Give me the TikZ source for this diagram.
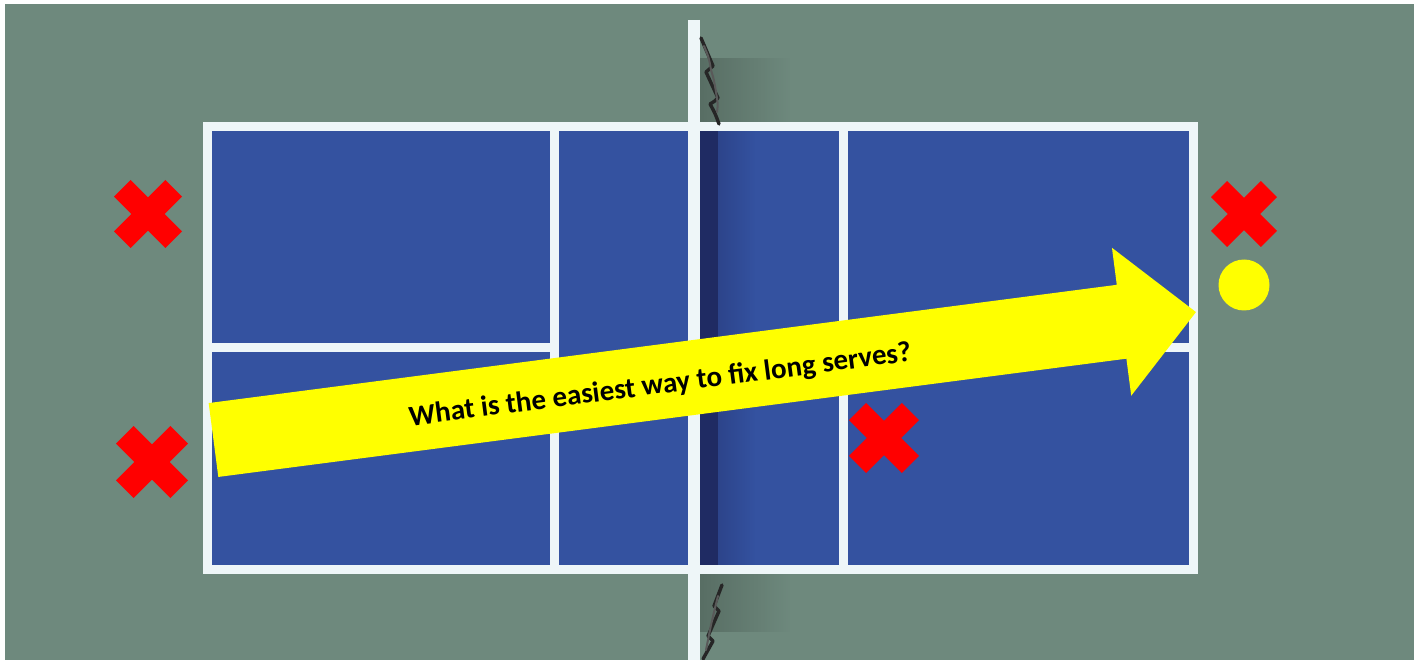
\documentclass[tikz,border=0pt]{standalone}
\usepackage{fontspec}
\setmainfont{Carlito}
\usetikzlibrary{fadings}
\definecolor{turf}{HTML}{6E897D}
\definecolor{courtblue}{HTML}{3452A0}
\definecolor{netdark}{HTML}{1F2B63}
\definecolor{linewhite}{HTML}{EEF6F8}
\definecolor{pureyellow}{RGB}{255,255,0}
\newcommand\redcross[4]{%
  \node[armbox,minimum width={#4*1.4142-#4*0.347},minimum height={#4*0.347},rotate=45] (#1a) at (#2,#3) {};
  \node[armbox,minimum width={#4*1.4142-#4*0.347},minimum height={#4*0.347},rotate=-45] (#1b) at (#2,#3) {};}
\begin{document}
\begin{tikzpicture}[x=1pt,y=-1pt,
  courtline/.style={draw=linewhite,line width=9pt},
  netline/.style={draw=linewhite,line width=12pt},
  armbox/.style={fill=red,draw=none,inner sep=0pt,outer sep=0pt,rectangle},
  cord/.style={draw=black!85,line width=3.4pt,line join=round,line cap=round},
  shadowfill/.style={fill=black,opacity=0.2,path fading=east},
  question/.style={font=\bfseries\fontsize{29}{32}\selectfont,text=black,inner sep=0pt}]
\useasboundingbox (0,0) rectangle (1414,660);
\fill[white] (0,0) rectangle (1414,660);
\fill[turf] (5,4) rectangle (1414,660);
% court
\coordinate (nw) at (207,127);
\coordinate (se) at (1193,569);
\fill[courtblue] (nw) rectangle (se);
% net shadow inside court
\fill[netdark] (699,131) rectangle (718,565);
\fill[netdark,opacity=0.35,path fading=east] (718,131) rectangle (755,565);
% net shadow outside the court
\fill[shadowfill] (699,58) rectangle (790,123);
\fill[shadowfill] (699,573) rectangle (790,632);
% court lines
\draw[courtline] (nw) rectangle (se);
\coordinate (kl-top) at (554,127);
\coordinate (kl-bot) at (554,569);
\coordinate (kr-top) at (843,127);
\coordinate (kr-bot) at (843,569);
\coordinate (cl-l) at (207,348);
\coordinate (cl-lk) at (554,348);
\coordinate (cl-rk) at (843,348);
\coordinate (cl-r) at (1193,348);
\draw[courtline] (kl-top) -- (kl-bot);
\draw[courtline] (kr-top) -- (kr-bot);
\draw[courtline] (cl-l) -- (cl-lk);
\draw[courtline] (cl-rk) -- (cl-r);
% net
\coordinate (net-top) at (694,20);
\coordinate (net-bot) at (694,660);
\draw[netline] (net-top) -- (net-bot);
\draw[cord] (701,38) .. controls (707,52) .. (713,66) .. controls (710,69) .. (706,72)
  .. controls (712,85) .. (718,98) .. controls (715,101) .. (710,104) .. controls (715,113) .. (719,124);
\draw[cord,line width=2pt,draw=black!65] (704,46) .. controls (709,58) .. (711,70)
  .. controls (714,80) .. (716,92) .. controls (718,104) .. (717,112);
\draw[cord] (722,585) .. controls (718,596) .. (714,606) .. controls (717,608) .. (719,611)
  .. controls (713,624) .. (708,636) .. controls (711,638) .. (713,641) .. controls (708,650) .. (703,659);
\draw[cord,line width=2pt,draw=black!65] (718,596) .. controls (714,612) .. (711,625)
  .. controls (709,638) .. (706,650);
% arrow
\begin{scope}[shift={(213.5,440)},rotate=7.42]
  \fill[pureyellow] (0,-37.25) -- (915.8,-37.25) -- (915.8,-74.6) -- (990.8,0)
    -- (915.8,74.6) -- (915.8,37.25) -- (0,37.25) -- cycle;
  \node[question,rotate=7.42] (q) at (450,4) {What is the easiest way to fix long serves?};
\end{scope}
% crosses
\redcross{xlt}{148}{214}{68}
\redcross{xlb}{152}{462}{72}
\redcross{xrt}{1244}{214}{66}
\redcross{xm}{884}{438}{70}
% ball
\node[circle,fill=pureyellow,draw=none,minimum size=51pt,inner sep=0pt] (ball) at (1244,285) {};
\end{tikzpicture}
\end{document}
